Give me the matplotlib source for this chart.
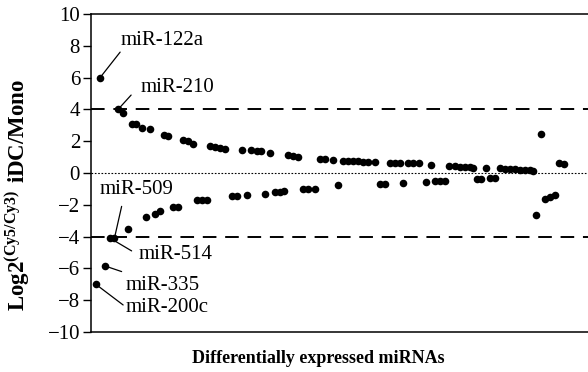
import matplotlib.pyplot as plt
import numpy as np

plt.rcParams['font.family'] = ['Liberation Serif', 'DejaVu Serif']
plt.rcParams['mathtext.fontset'] = 'custom'
plt.rcParams['mathtext.bf'] = 'Liberation Serif:bold'
plt.rcParams['mathtext.rm'] = 'Liberation Serif:bold'
plt.rcParams['mathtext.default'] = 'bf'

# up-regulated miRNAs: position along the ranking axis and log2 ratio
up_pos = [9, 27, 32, 40.7, 45, 50.7, 59, 73, 77.3, 92.3, 96.7, 101.7, 119, 124,
          129, 134, 150.7, 159.7, 165.7, 170, 179, 197.3, 202.3, 207.3, 229, 234,
          242.3, 252.3, 257.3, 262.3, 267.3, 272.3, 277.3, 284, 299, 304, 309,
          317.3, 322.3, 328, 340, 358, 364, 369, 374, 379, 382, 395, 409, 414,
          419, 424, 429, 434, 439, 442.3, 450, 468.3, 473.3]
up_val = [6.0, 4.0, 3.75, 3.1, 3.05, 2.8, 2.75, 2.4, 2.33, 2.07, 2.0, 1.8, 1.7,
          1.65, 1.6, 1.52, 1.45, 1.42, 1.4, 1.38, 1.28, 1.1, 1.05, 1.0, 0.9, 0.88,
          0.82, 0.78, 0.77, 0.75, 0.73, 0.72, 0.7, 0.69, 0.63, 0.63, 0.63, 0.62,
          0.61, 0.6, 0.5, 0.47, 0.44, 0.4, 0.37, 0.36, 0.33, 0.31, 0.31, 0.27,
          0.24, 0.22, 0.19, 0.18, 0.17, 0.15, 2.45, 0.65, 0.57]

# down-regulated miRNAs
down_pos = [4.7, 14, 19, 23.3, 36.7, 55, 64, 69, 81.7, 87.3, 105.7, 110.7, 115.7,
            141, 146, 156.3, 174, 184, 189, 193, 212.3, 217.3, 224, 247.3, 289,
            294, 312.3, 335, 344, 349, 354, 385.7, 390, 399, 404, 445, 454, 459, 464]
down_val = [-7.0, -5.85, -4.1, -4.1, -3.5, -2.75, -2.55, -2.4, -2.15, -2.15, -1.7,
            -1.7, -1.7, -1.47, -1.47, -1.4, -1.32, -1.21, -1.17, -1.12, -1.03,
            -1.03, -1.0, -0.78, -0.7, -0.7, -0.65, -0.55, -0.5, -0.5, -0.5, -0.38,
            -0.38, -0.33, -0.33, -2.62, -1.64, -1.5, -1.38]

# labelled miRNAs: (name, series, index)
labels = [('miR-122a', 'up', 0), ('miR-210', 'up', 1), ('miR-509', 'down', 3),
          ('miR-514', 'down', 2), ('miR-335', 'down', 1), ('miR-200c', 'down', 0)]

# label layout: line end and text anchor (data units)
label_layout = {
    'miR-122a': ((29, 7.6), (29, 8.3), 'left'),
    'miR-210': ((40, 4.9), (49, 5.4), 'left'),
    'miR-509': ((30.5, -2.1), (45.5, -1.05), 'center'),
    'miR-514': ((40.5, -4.9), (47, -5.1), 'left'),
    'miR-335': ((30.5, -6.2), (34, -7.1), 'left'),
    'miR-200c': ((32, -8.3), (34, -8.45), 'left'),
}

fig = plt.figure(figsize=(5.88, 3.72), dpi=100)
ax = fig.add_axes([0.155, 0.1075, 0.845, 0.855])

ax.scatter(up_pos, up_val, s=30, color='black', zorder=3, linewidths=0)
ax.scatter(down_pos, down_val, s=30, color='black', zorder=3, linewidths=0)

ax.axhline(4, color='black', lw=1.4, dashes=(7, 4.5), zorder=2)
ax.axhline(-4, color='black', lw=1.4, dashes=(7, 4.5), zorder=2)
ax.axhline(0, color='black', lw=0.8, ls=(0, (1.5, 1.5)), zorder=2)

series = {'up': (up_pos, up_val), 'down': (down_pos, down_val)}
for name, s, i in labels:
    px, py = series[s][0][i], series[s][1][i]
    (lx, ly), (tx, ty), ha = label_layout[name]
    ax.annotate('', xy=(px, py), xytext=(lx, ly),
                arrowprops=dict(arrowstyle='-', lw=0.9, color='black',
                                shrinkA=0, shrinkB=2))
    ax.text(tx, ty, name, fontsize=15, ha=ha, va='center')

ax.set_xlim(0, 497)
ax.set_ylim(-10, 10)
ax.set_yticks(np.arange(-10, 11, 2))
ax.set_yticklabels(['\u221210', '\u22128', '\u22126', '\u22124', '\u22122', '0',
                    '2', '4', '6', '8', '10'])
ax.set_xticks([])
ax.tick_params(axis='y', direction='out', length=6, width=1, labelsize=15, pad=2)

for sp in ['left', 'top', 'bottom']:
    ax.spines[sp].set_linewidth(1.1)
ax.spines['right'].set_visible(False)

ax.set_ylabel(r'$\mathbf{Log2^{(Cy5/Cy3)}\ iDC/Mono}$', fontsize=16.5)
ax.yaxis.set_label_coords(-0.12, 0.43)
ax.set_xlabel('Differentially expressed miRNAs', fontsize=13, fontweight='bold')
ax.xaxis.set_label_coords(0.457, -0.055)

fig.savefig('out.png', dpi=100)
